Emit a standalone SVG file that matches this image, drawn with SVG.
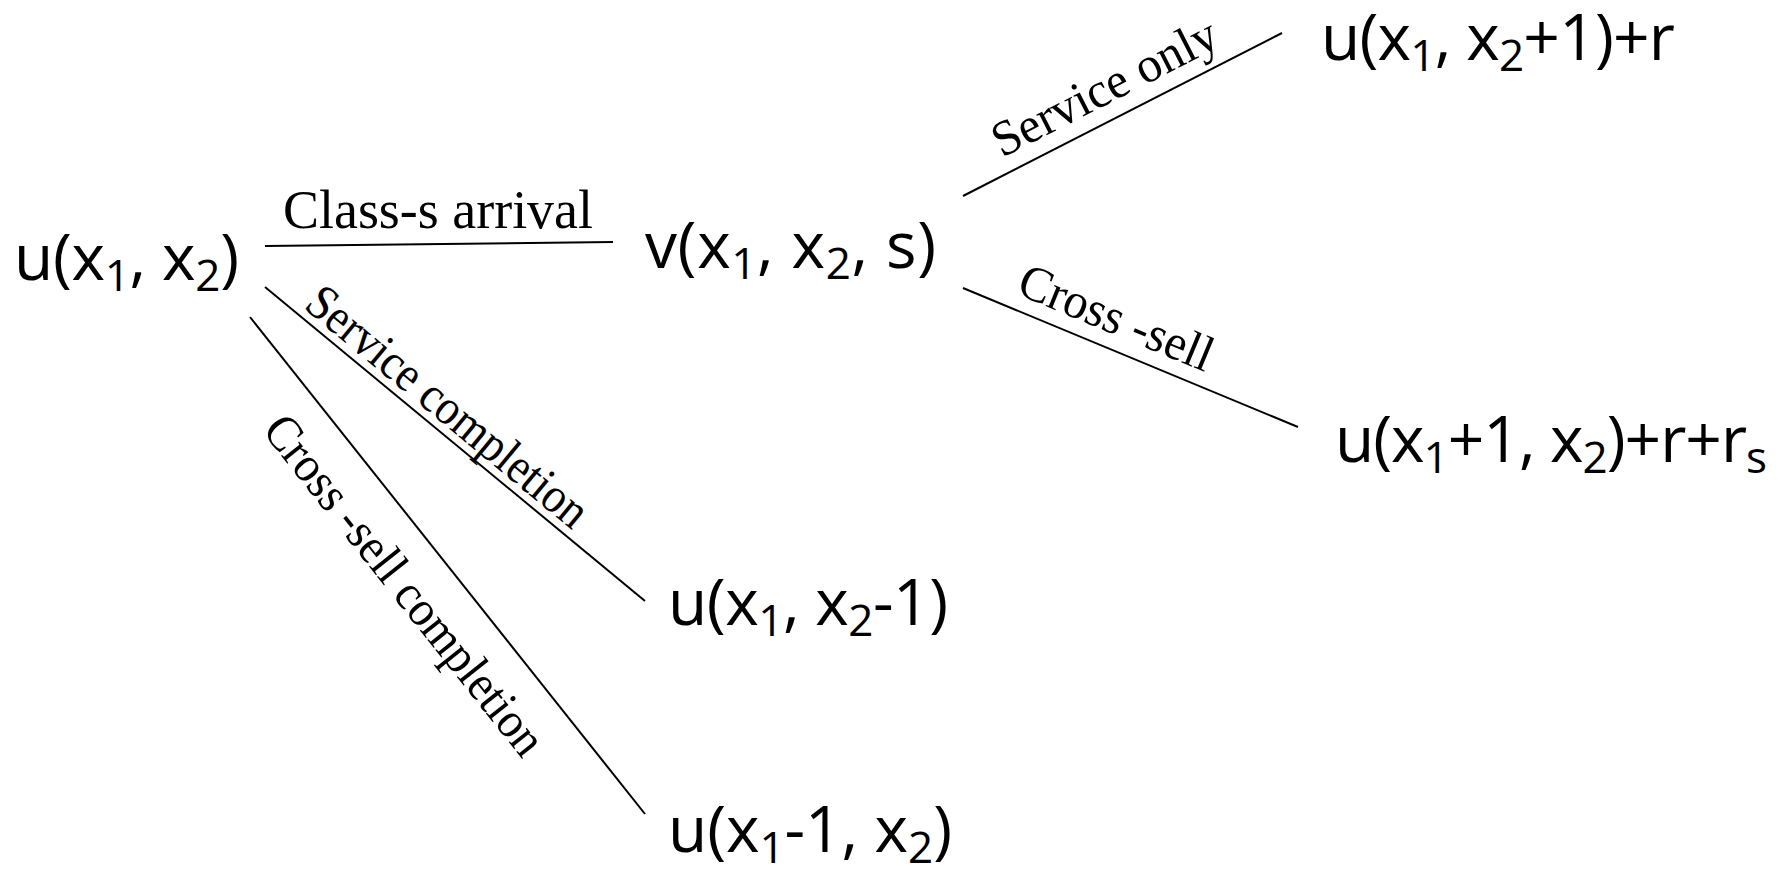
<svg xmlns="http://www.w3.org/2000/svg" width="1785" height="871" viewBox="0 0 1785 871">
  <style>
    .node { font-family: "Open Sans", "DejaVu Sans", sans-serif; font-size: 64px; fill: #000; }
    .sub { font-size: 44px; }
    .lbl { font-family: "Liberation Serif", "Times New Roman", serif; fill: #000; }
    .edge { stroke: #000; stroke-width: 2; fill: none; }
  </style>

  <!-- connectors -->
  <g id="connectors">
    <line class="edge" x1="265" y1="246" x2="613" y2="242"/>
    <line class="edge" x1="963" y1="196" x2="1282" y2="33"/>
    <line class="edge" x1="963" y1="288" x2="1298" y2="427"/>
    <line class="edge" x1="265" y1="287" x2="645" y2="601"/>
    <line class="edge" x1="250" y1="317" x2="645" y2="814"/>
  </g>

  <!-- edge labels -->
  <g id="edge-labels">
    <text class="lbl" x="283" y="228" font-size="54" textLength="310" lengthAdjust="spacingAndGlyphs">Class-s arrival</text>
    <g transform="translate(963,196) rotate(-27.07)">
      <text class="lbl" x="52" y="-16" font-size="50" textLength="247" lengthAdjust="spacingAndGlyphs">Service only</text>
    </g>
    <g transform="translate(963,288) rotate(22.54)">
      <text class="lbl" x="50" y="-15" font-size="50" textLength="206" lengthAdjust="spacingAndGlyphs">Cross -sell</text>
    </g>
    <g transform="translate(265,287) rotate(39.56)">
      <text class="lbl" x="42" y="-8" font-size="50" textLength="350" lengthAdjust="spacingAndGlyphs">Service completion</text>
    </g>
    <g transform="translate(250,317) rotate(51.53)">
      <text class="lbl" x="96" y="62" font-size="50" textLength="420" lengthAdjust="spacingAndGlyphs">Cross -sell completion</text>
    </g>
  </g>

  <!-- state nodes -->
  <g id="node-u">
    <text class="node" x="14" y="280" textLength="225" lengthAdjust="spacing">u(x<tspan class="sub" dy="11">1</tspan><tspan dy="-11">, x</tspan><tspan class="sub" dy="11">2</tspan><tspan dy="-11">)</tspan></text>
  </g>
  <g id="node-v">
    <text class="node" x="645" y="268" textLength="291" lengthAdjust="spacing">v(x<tspan class="sub" dy="11">1</tspan><tspan dy="-11">, x</tspan><tspan class="sub" dy="11">2</tspan><tspan dy="-11">, s)</tspan></text>
  </g>
  <g id="node-service-only">
    <text class="node" x="1321" y="60" textLength="354" lengthAdjust="spacing">u(x<tspan class="sub" dy="11">1</tspan><tspan dy="-11">, x</tspan><tspan class="sub" dy="11">2</tspan><tspan dy="-11">+1)+r</tspan></text>
  </g>
  <g id="node-cross-sell">
    <text class="node" x="1335" y="462" textLength="432" lengthAdjust="spacing">u(x<tspan class="sub" dy="11">1</tspan><tspan dy="-11">+1, x</tspan><tspan class="sub" dy="11">2</tspan><tspan dy="-11">)+r+r</tspan><tspan class="sub" dy="11">s</tspan></text>
  </g>
  <g id="node-service-done">
    <text class="node" x="668" y="625" textLength="280" lengthAdjust="spacing">u(x<tspan class="sub" dy="11">1</tspan><tspan dy="-11">, x</tspan><tspan class="sub" dy="11">2</tspan><tspan dy="-11">-1)</tspan></text>
  </g>
  <g id="node-cross-done">
    <text class="node" x="668" y="852" textLength="284" lengthAdjust="spacing">u(x<tspan class="sub" dy="11">1</tspan><tspan dy="-11">-1, x</tspan><tspan class="sub" dy="11">2</tspan><tspan dy="-11">)</tspan></text>
  </g>
</svg>
